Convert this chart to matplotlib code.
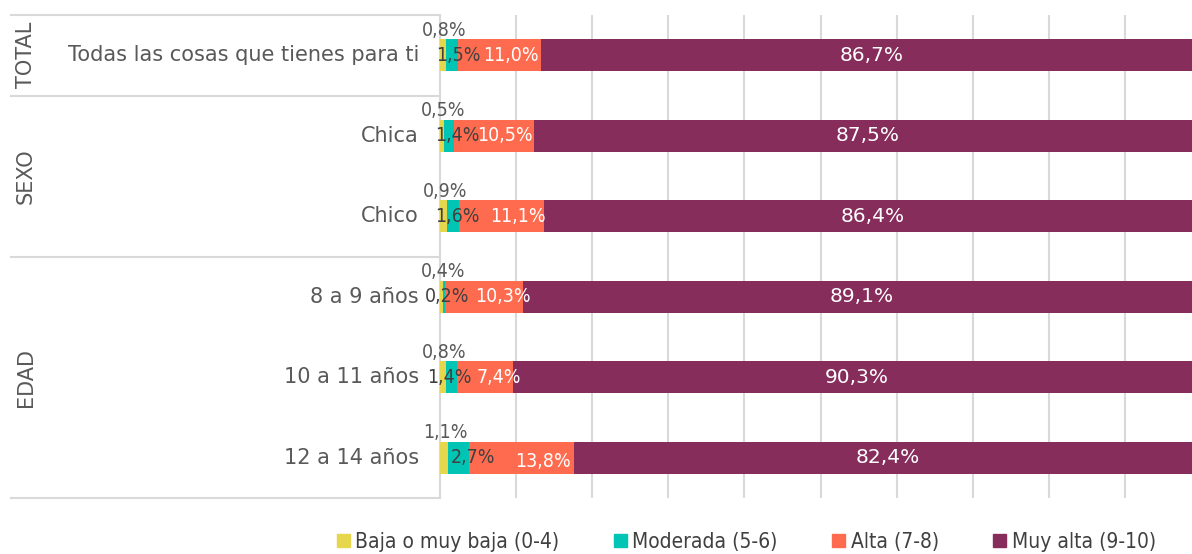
import matplotlib

matplotlib.use("Agg")
import matplotlib.pyplot as plt
import matplotlib.transforms as mtransforms
from matplotlib.patches import Patch
import numpy as np

# --- data -------------------------------------------------------------------
rows = ["Todas las cosas que tienes para ti", "Chica", "Chico",
        "8 a 9 años", "10 a 11 años", "12 a 14 años"]
groups = ["TOTAL", "SEXO", "EDAD"]
group_rows = [(0, 0), (1, 2), (3, 5)]          # first/last row of each group
series = ["Baja o muy baja (0-4)", "Moderada (5-6)", "Alta (7-8)",
          "Muy alta (9-10)"]
baja = [0.8, 0.5, 0.9, 0.4, 0.8, 1.1]
moderada = [1.5, 1.4, 1.6, 0.2, 1.4, 2.7]
alta = [11.0, 10.5, 11.1, 10.3, 7.4, 13.8]
muy_alta = [86.7, 87.5, 86.4, 89.1, 90.3, 82.4]

# label nudges (data units), as placed in the original
teal_dx = [0.8, 1.1, 0.6, 0.45, -0.3, 1.85]
coral_dx = [1.5, 1.4, 2.2, 2.5, 1.9, 2.8]
coral_dy = [0, 0, 0, 0, 0, 0.05]

COLORS = ["#E6D64B", "#00C4B4", "#FF6B4F", "#862D5C"]
GREY = "#595959"
DARK = "#404040"
LINE = "#D9D9D9"
FONT = "DejaVu Sans"


def fmt(v):
    return f"{v:.1f}%".replace(".", ",")


fig = plt.figure(figsize=(11.92, 5.54), dpi=100)
ax = fig.add_axes([440 / 1192, 1 - 498 / 554, 752 / 1192, 483 / 554])

vals = np.array([baja, moderada, alta, muy_alta])
y = np.arange(len(rows))
left = np.zeros(len(rows))
for k, v in enumerate(vals):
    ax.barh(y, v, left=left, height=0.4, color=COLORS[k], zorder=3)
    left = left + v

starts = np.vstack([np.zeros(len(rows)), np.cumsum(vals, axis=0)[:-1]])
centers = starts + vals / 2
fs = 15
lbl = dict(fontsize=14, family=FONT, stretch="condensed", zorder=5,
           ha="center", va="center")
for i in range(len(rows)):
    ax.text(centers[0, i] + 0.2, i - 0.31, fmt(vals[0, i]), color=GREY, **lbl)
    ax.text(centers[1, i] + teal_dx[i], i, fmt(vals[1, i]), color=DARK, **lbl)
    ax.text(centers[2, i] + coral_dx[i], i + coral_dy[i], fmt(vals[2, i]),
            color="white", **lbl)
    ax.text(centers[3, i], i, fmt(vals[3, i]), color="white",
            **{**lbl, "fontsize": 14.5, "stretch": "normal"})

ax.set_xlim(0, 98.8)
ax.set_ylim(len(rows) - 0.5, -0.5)
ax.set_xticks(np.arange(10, 100, 10))
ax.set_yticks([])
ax.tick_params(axis="x", length=0, labelbottom=False)
ax.grid(axis="x", color=LINE, lw=1.5, zorder=0)
for s in ["top", "right", "bottom"]:
    ax.spines[s].set_visible(False)
ax.spines["left"].set_color(LINE)
ax.spines["left"].set_linewidth(1.5)

# left table: category labels, group labels, separators
trans = mtransforms.blended_transform_factory(ax.transAxes, ax.transData)
for i, r in enumerate(rows):
    ax.text(-0.028, i, r, transform=trans, ha="right", va="center",
            color=GREY, fontsize=fs, family=FONT)
x0 = -429 / 752
for g, (a, b) in zip(groups, group_rows):
    ax.text(-414 / 752, (a + b) / 2, g, transform=trans, rotation=90,
            ha="center", va="center", color=GREY, fontsize=fs, family=FONT)
for yy in [-0.5, 0.5, 2.5, len(rows) - 0.5]:
    ax.plot([x0, 0], [yy, yy], transform=trans, color=LINE, lw=1.5,
            clip_on=False)

handles = [Patch(color=c, label=s) for c, s in zip(COLORS, series)]
fig.legend(handles=handles, loc="center", bbox_to_anchor=(0.626, 0.022),
           ncol=4, frameon=False, handlelength=0.65, handleheight=0.65,
           handletextpad=0.25, columnspacing=2.6,
           prop={"family": "DejaVu Sans", "stretch": "condensed",
                 "size": 15},
           labelcolor=DARK)

fig.savefig("out.png", dpi=100)
